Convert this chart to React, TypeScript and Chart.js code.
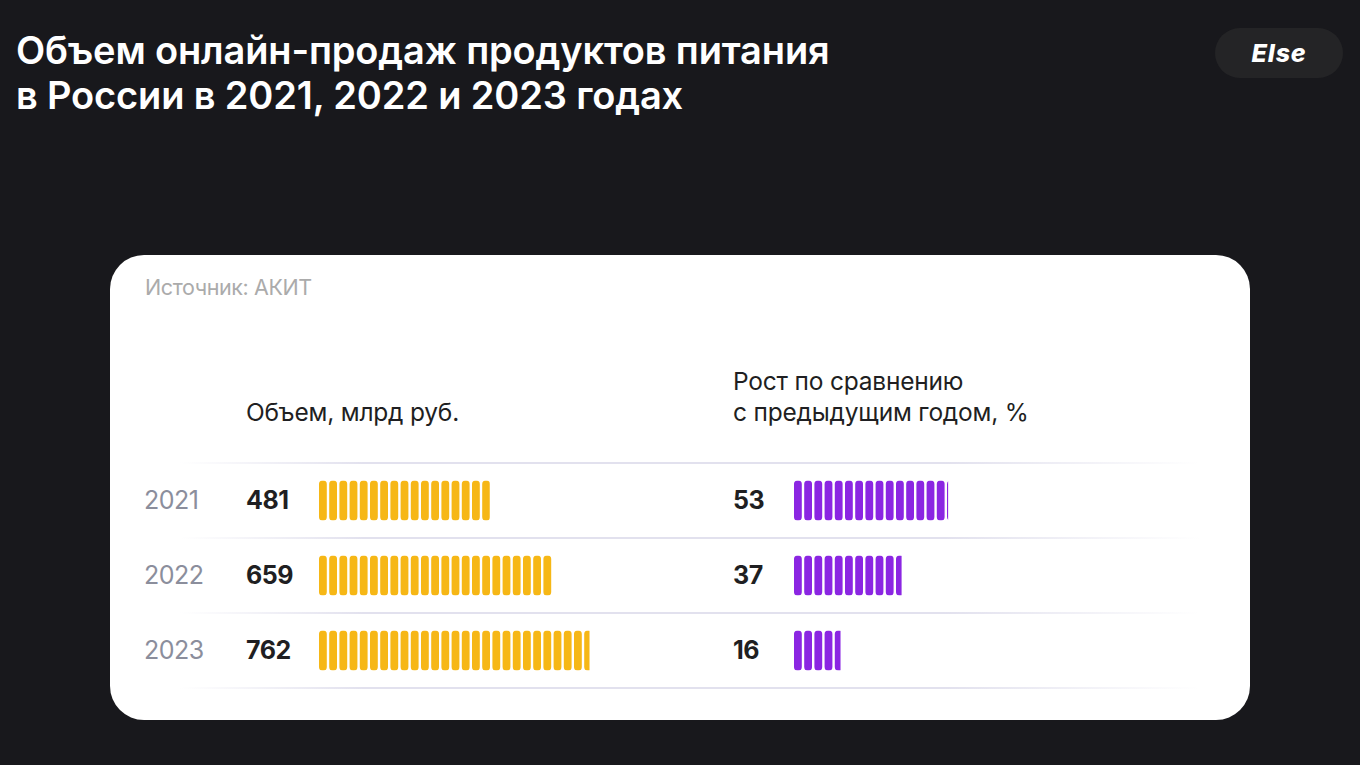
import React, { useEffect, useRef } from "react";
import { Chart, registerables } from "chart.js";

Chart.register(...registerables);

const years = ["2021", "2022", "2023"];
const volumeBln = [481, 659, 762];
const growthPct = [53, 37, 16];

const TITLE_1 = "Объем онлайн-продаж продуктов питания";
const TITLE_2 = "в России в 2021, 2022 и 2023 годах";
const SOURCE = "Источник: АКИТ";
const HEAD_VOLUME = "Объем, млрд руб.";
const HEAD_GROWTH_1 = "Рост по сравнению";
const HEAD_GROWTH_2 = "с предыдущим годом, %";

const FONT = "Inter, 'Noto Sans', sans-serif";

const segmentPlugin = {
  id: "segments",
  afterDatasetsDraw(chart: any) {
    const ctx = chart.ctx;
    chart.data.datasets.forEach((ds: any, di: number) => {
      const meta = chart.getDatasetMeta(di);
      const color = ds.segColor;
      meta.data.forEach((bar: any) => {
        const p = bar.getProps(["x", "y", "base", "height"], true);
        const left = Math.min(p.base, p.x);
        const right = Math.max(p.base, p.x);
        const top = p.y - p.height / 2;
        const h = p.height;
        const pitch = 10.2;
        const w = 7.8;
        const r = 3.5;
        ctx.save();
        ctx.beginPath();
        ctx.rect(left, top, right - left, h);
        ctx.clip();
        ctx.fillStyle = color;
        for (let sx = left; sx < right; sx += pitch) {
          ctx.beginPath();
          ctx.roundRect(sx, top, w, h, r);
          ctx.fill();
        }
        ctx.restore();
      });
    });
  },
};

function BarChart({ values, max, color }: { values: number[]; max: number; color: string }) {
  const ref = useRef<HTMLCanvasElement>(null);
  useEffect(() => {
    const chart = new Chart(ref.current!, {
      type: "bar",
      data: {
        labels: years,
        datasets: [
          {
            data: values,
            backgroundColor: "rgba(0,0,0,0)",
            borderWidth: 0,
            categoryPercentage: 1,
            barPercentage: 40 / 75,
            // @ts-ignore
            segColor: color,
          },
        ],
      },
      options: {
        indexAxis: "y",
        animation: false,
        responsive: false,
        maintainAspectRatio: false,
        layout: { padding: 0 },
        plugins: { legend: { display: false }, tooltip: { enabled: false } },
        scales: {
          x: { display: false, min: 0, max },
          y: { display: false },
        },
      },
      plugins: [segmentPlugin],
    });
    return () => chart.destroy();
  }, []);
  return <canvas ref={ref} width={340} height={225} style={{ width: 340, height: 225, display: "block" }} />;
}

export default function App() {
  const rowTop = 462.5;
  const rowH = 75;
  return (
    <div
      style={{
        position: "fixed",
        left: 0,
        top: 0,
        width: 1360,
        height: 765,
        background: "#18181c",
        fontFamily: FONT,
        overflow: "hidden",
      }}
    >
      <div
        style={{
          position: "absolute",
          left: 16,
          top: 28,
          color: "#fff",
          fontSize: 38,
          fontWeight: 600,
          lineHeight: "45px",
          letterSpacing: -0.15,
          whiteSpace: "nowrap",
        }}
      >
        <div>{TITLE_1}</div>
        <div>{TITLE_2}</div>
      </div>
      <div
        style={{
          position: "absolute",
          left: 1215,
          top: 28,
          width: 128,
          height: 50,
          borderRadius: 25,
          background: "#242426",
          color: "#fff",
          display: "flex",
          alignItems: "center",
          justifyContent: "center",
          fontSize: 25,
          fontWeight: 800,
          fontStyle: "italic",
          letterSpacing: 0.8,
        }}
      >
        Else
      </div>
      <div
        style={{
          position: "absolute",
          left: 110,
          top: 255,
          width: 1140,
          height: 465,
          borderRadius: 34,
          background: "#fff",
        }}
      />
      <div
        style={{
          position: "absolute",
          left: 145,
          top: 274,
          color: "#ababab",
          fontSize: 21.5,
          letterSpacing: -0.4,
          whiteSpace: "nowrap",
        }}
      >
        {SOURCE}
      </div>
      <div
        style={{
          position: "absolute",
          left: 246,
          top: 397,
          color: "#1f1f22",
          fontSize: 24.5,
          letterSpacing: -0.2,
          whiteSpace: "nowrap",
        }}
      >
        {HEAD_VOLUME}
      </div>
      <div
        style={{
          position: "absolute",
          left: 733,
          top: 366,
          color: "#1f1f22",
          fontSize: 24.5,
          lineHeight: "31px",
          letterSpacing: -0.2,
          whiteSpace: "nowrap",
        }}
      >
        <div>{HEAD_GROWTH_1}</div>
        <div>{HEAD_GROWTH_2}</div>
      </div>
      {[0, 1, 2, 3].map((i) => (
        <div
          key={"line" + i}
          style={{
            position: "absolute",
            left: 180,
            top: rowTop + i * rowH - 1,
            width: 1020,
            height: 2,
            background:
              "linear-gradient(to right, rgba(226,225,238,0) 0%, rgba(226,225,238,1) 18%, rgba(226,225,238,1) 75%, rgba(226,225,238,0) 100%)",
          }}
        />
      ))}
      {years.map((y, i) => (
        <React.Fragment key={y}>
          <div
            style={{
              position: "absolute",
              left: 144,
              top: rowTop + i * rowH,
              height: rowH,
              display: "flex",
              alignItems: "center",
              color: "#8b8e9c",
              fontSize: 25,
              letterSpacing: -0.5,
            }}
          >
            {y}
          </div>
          <div
            style={{
              position: "absolute",
              left: 246,
              top: rowTop + i * rowH,
              height: rowH,
              display: "flex",
              alignItems: "center",
              color: "#1f1f22",
              fontSize: 25,
              fontWeight: 700,
              letterSpacing: -0.5,
            }}
          >
            {volumeBln[i]}
          </div>
          <div
            style={{
              position: "absolute",
              left: 733,
              top: rowTop + i * rowH,
              height: rowH,
              display: "flex",
              alignItems: "center",
              color: "#1f1f22",
              fontSize: 25,
              fontWeight: 700,
              letterSpacing: -0.5,
            }}
          >
            {growthPct[i]}
          </div>
        </React.Fragment>
      ))}
      <div style={{ position: "absolute", left: 319, top: rowTop }}>
        <BarChart values={volumeBln} max={340 / 0.355} color="#f6b716" />
      </div>
      <div style={{ position: "absolute", left: 794, top: rowTop }}>
        <BarChart values={growthPct} max={340 / 2.908} color="#8b26e2" />
      </div>
    </div>
  );
}
